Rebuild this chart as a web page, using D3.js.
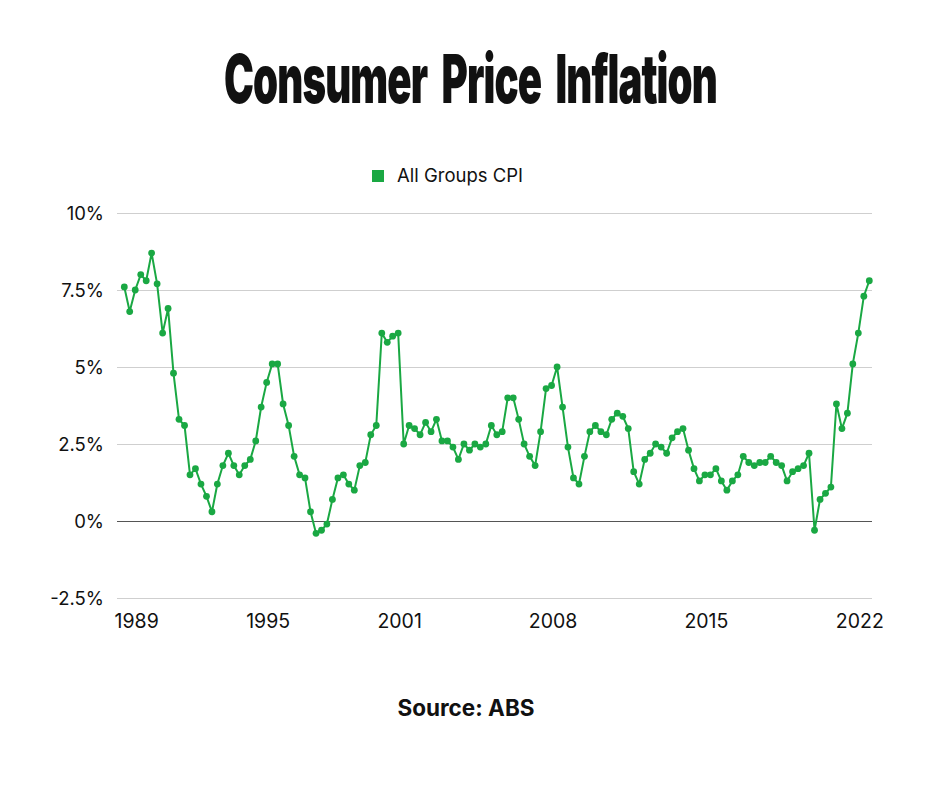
<!DOCTYPE html>
<html>
<head>
<meta charset="utf-8">
<script src="https://cdn.jsdelivr.net/npm/d3@7"></script>
<style>
  body { margin: 0; background: #fff; }
  #chart text { font-family: Inter, "Noto Sans", sans-serif; fill: #111; }
</style>
</head>
<body>
<div id="chart"></div>
<script>
// quarterly annual CPI change, Dec 1988 to Dec 2022
const firstYear = 1988, firstMonth = 12;
const cpiValues = [
  7.6, 6.8, 7.5, 8.0, 7.8, 8.7, 7.7, 6.1, 6.9, 4.8, 3.3, 3.1, 1.5, 1.7, 1.2, 0.8, 0.3, 1.2, 1.8, 2.2,
  1.8, 1.5, 1.8, 2.0, 2.6, 3.7, 4.5, 5.1, 5.1, 3.8, 3.1, 2.1, 1.5, 1.4, 0.3,
  -0.4, -0.3, -0.1, 0.7, 1.4, 1.5, 1.2, 1.0, 1.8, 1.9, 2.8, 3.1, 6.1, 5.8, 6.0, 6.1, 2.5, 3.1, 3.0,
  2.8, 3.2, 2.9, 3.3, 2.6, 2.6, 2.4, 2.0, 2.5, 2.3, 2.5, 2.4, 2.5, 3.1,
  2.8, 2.9, 4.0, 4.0, 3.3, 2.5, 2.1, 1.8, 2.9, 4.3, 4.4, 5.0, 3.7, 2.4, 1.4, 1.2, 2.1, 2.9, 3.1,
  2.9, 2.8, 3.3, 3.5, 3.4, 3.0, 1.6, 1.2, 2.0, 2.2, 2.5, 2.4, 2.2, 2.7, 2.9,
  3.0, 2.3, 1.7, 1.3, 1.5, 1.5, 1.7, 1.3, 1.0, 1.3, 1.5, 2.1, 1.9, 1.8, 1.9, 1.9, 2.1, 1.9, 1.8,
  1.3, 1.6, 1.7, 1.8, 2.2, -0.3, 0.7, 0.9, 1.1, 3.8, 3.0, 3.5, 5.1, 6.1, 7.3, 7.8
];
const yearTicks = [1989, 1995, 2001, 2008, 2015, 2022];
const yTicks = [-2.5, 0, 2.5, 5, 7.5, 10];
const seriesName = "All Groups CPI";
const titleText = "Consumer Price Inflation";
const sourceText = "Source: ABS";

const green = "#1aa843";
const width = 940, height = 788;

const data = cpiValues.map((v, i) => {
  let m = firstMonth - 1 + i * 3;
  return { date: new Date(firstYear + Math.floor(m / 12), m % 12, 15), value: v };
});

const svg = d3.select("#chart")
  .append("svg")
  .attr("width", width)
  .attr("height", height);

// scales
const x = d3.scaleTime()
  .domain(d3.extent(data, d => d.date))
  .range([124.3, 869.3]);

const y = d3.scaleLinear()
  .domain([-2.5, 10])
  .range([598, 213]);

// title: heavy face squeezed to a condensed width
const title = svg.append("text")
  .style("font-weight", 900)
  .style("font-size", "67px")
  .style("letter-spacing", "-1.5px")
  .style("word-spacing", "12px")
  .text(titleText);
const titleW = title.node().getComputedTextLength();
title.attr("transform", `translate(224,103) scale(${493 / titleW},1)`);

// legend
svg.append("rect")
  .attr("x", 372)
  .attr("y", 170)
  .attr("width", 12)
  .attr("height", 12)
  .style("fill", green);

svg.append("text")
  .attr("x", 397)
  .attr("y", 182)
  .style("font-size", "18.5px")
  .text(seriesName);

// y axis + grid
const yAxis = d3.axisLeft(y)
  .tickValues(yTicks)
  .tickSize(-(872 - 117))
  .tickPadding(13)
  .tickFormat(d => d + "%");

const gy = svg.append("g")
  .attr("transform", "translate(117,0)")
  .call(yAxis);

gy.select(".domain").remove();
gy.selectAll(".tick line")
  .style("stroke", d => d === 0 ? "#555" : "#cfcfcf")
  .style("stroke-width", 1.2);
gy.selectAll(".tick text")
  .style("font-size", "18.5px")
  .attr("dy", "0.34em");

// x axis
const xAxis = d3.axisBottom(x)
  .tickValues(yearTicks.map(yr => new Date(yr, 6, 1)))
  .tickSize(0)
  .tickFormat(d3.timeFormat("%Y"));

const gx = svg.append("g")
  .attr("transform", "translate(0,598)")
  .call(xAxis);

gx.select(".domain").remove();
gx.selectAll(".tick text")
  .style("font-size", "19.5px")
  .attr("y", 16)
  .attr("dy", "0.71em");

// line
const line = d3.line()
  .x(d => x(d.date))
  .y(d => y(d.value));

svg.append("path")
  .datum(data)
  .attr("d", line)
  .style("fill", "none")
  .style("stroke", green)
  .style("stroke-width", 2);

svg.append("g")
  .selectAll("circle")
  .data(data)
  .enter()
  .append("circle")
  .attr("cx", d => x(d.date))
  .attr("cy", d => y(d.value))
  .attr("r", 3.4)
  .style("fill", green);

// source
svg.append("text")
  .attr("x", 466)
  .attr("y", 716)
  .style("text-anchor", "middle")
  .style("font-size", "22.5px")
  .style("font-weight", "bold")
  .text(sourceText);
</script>
</body>
</html>
